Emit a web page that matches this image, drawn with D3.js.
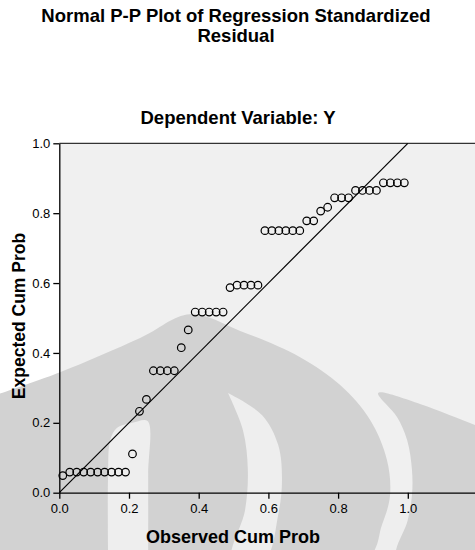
<!DOCTYPE html>
<html>
<head>
<meta charset="utf-8">
<title>Normal P-P Plot of Regression Standardized Residual</title>
<style>
body{
    margin:0;
    background:#fff;
}
svg text{
    font-family:"Liberation Sans", Arial, sans-serif;
    fill:#000;
}
.title{ font-weight:bold; }
.axis text{ font-size:13px; }
</style>
</head>
<body>
<svg id="chart" width="475" height="550"></svg>
<script src="https://d3js.org/d3.v7.min.js"></script>
<script>
// observed cumulative probability of each case (x)
var observed = [0.01,0.03,0.05,0.07,0.09,0.11,0.13,0.15,0.17,0.19,
                0.21,0.23,0.25,0.27,0.29,0.31,0.33,0.35,0.37,0.39,
                0.41,0.43,0.45,0.47,0.49,0.51,0.53,0.55,0.57,0.59,
                0.61,0.63,0.65,0.67,0.69,0.71,0.73,0.75,0.77,0.79,
                0.81,0.83,0.85,0.87,0.89,0.91,0.93,0.95,0.97,0.99];

// expected cumulative probability of each case (y)
var expected = [0.049,0.059,0.059,0.059,0.059,0.059,0.059,0.059,0.059,0.059,
                0.111,0.233,0.267,0.349,0.349,0.349,0.349,0.415,0.466,0.517,
                0.517,0.517,0.517,0.517,0.587,0.594,0.594,0.594,0.594,0.750,
                0.750,0.750,0.750,0.750,0.750,0.778,0.778,0.806,0.817,0.844,
                0.844,0.844,0.865,0.865,0.865,0.865,0.887,0.887,0.887,0.887];

var xTicks = [0.0,0.2,0.4,0.6,0.8,1.0];
var yTicks = [0.0,0.2,0.4,0.6,0.8,1.0];

// background watermark outlines, in data units
var wmDome = [[-0.19,0.277],[0.002,0.345],[0.232,0.443],[0.375,0.511],[0.519,0.463],
              [0.691,0.388],[0.806,0.308],[0.892,0.208],[0.940,0.094],[0.949,-0.007],
              [0.926,-0.092],[0.880,-0.19],[-0.19,-0.19]];
var wmLeftGap = [[0.140,-0.19],[0.140,0.05],[0.146,0.15],[0.165,0.185],[0.21,0.200],
                 [0.253,0.205],[0.255,0.05],[0.255,-0.19]];
var wmMidGap = [[0.484,0.285],[0.527,0.179],[0.541,0.065],[0.533,-0.050],[0.496,-0.19],
                [0.590,-0.19],[0.628,-0.064],[0.639,0.036],[0.628,0.137],[0.582,0.222],[0.484,0.285]];
var wmRight = [[1.25,0.175],[1.193,0.194],[1.035,0.254],[0.915,0.285],[0.969,0.217],
               [0.998,0.151],[1.012,0.065],[1.012,-0.007],[1.000,-0.078],[0.969,-0.19],[1.25,-0.19]];

var svg = d3.select("#chart");

var x = d3.scaleLinear().domain([0, 1.2]).range([59.3, 477.5]);
var y = d3.scaleLinear().domain([0, 1]).range([492.7, 143.3]);

// plot background
svg.append("rect")
    .attr("x", x(0)).attr("y", y(1))
    .attr("width", x(1.2) - x(0)).attr("height", y(0) - y(1))
    .attr("fill", "#f0f0f0");

svg.append("rect")
    .attr("x", 0).attr("y", y(0))
    .attr("width", 475).attr("height", 550 - y(0))
    .attr("fill", "#eeeeee");

// watermark
var wm = d3.line()
    .x(function(d){ return x(d[0]); })
    .y(function(d){ return y(d[1]); })
    .curve(d3.curveCatmullRom);

svg.append("path").attr("d", wm(wmDome) + "Z").attr("fill", "#d2d2d2");
svg.append("path").attr("d", wm(wmRight) + "Z").attr("fill", "#d2d2d2");
svg.append("path").attr("d", wm(wmLeftGap) + "Z").attr("fill", "#eeeeee");
svg.append("path").attr("d", wm(wmMidGap) + "Z").attr("fill", "#eeeeee");

// top frame line
svg.append("line")
    .attr("x1", x(0)).attr("x2", x(1.2))
    .attr("y1", y(1)).attr("y2", y(1))
    .attr("stroke", "#333").attr("stroke-width", 1.3);

// axes
var xAxis = svg.append("g").attr("class", "axis")
    .attr("transform", "translate(0," + y(0) + ")")
    .call(d3.axisBottom(x).tickValues(xTicks).tickFormat(d3.format(".1f"))
        .tickSize(6).tickSizeOuter(0).tickPadding(5));

var yAxis = svg.append("g").attr("class", "axis")
    .attr("transform", "translate(" + x(0) + ",0)")
    .call(d3.axisLeft(y).tickValues(yTicks).tickFormat(d3.format(".1f"))
        .tickSize(6).tickSizeOuter(0).tickPadding(3));

svg.selectAll(".axis path, .axis line").attr("stroke", "#000").attr("stroke-width", 1.3);
svg.selectAll(".axis text").attr("font-family", null).attr("font-size", null);

// reference diagonal
svg.append("line")
    .attr("x1", x(0)).attr("y1", y(0))
    .attr("x2", x(1)).attr("y2", y(1))
    .attr("stroke", "#000").attr("stroke-width", 1.2);

// points
svg.append("g").selectAll("circle")
    .data(observed)
    .enter().append("circle")
    .attr("cx", function(d){ return x(d); })
    .attr("cy", function(d, i){ return y(expected[i]); })
    .attr("r", 3.8)
    .attr("fill", "none")
    .attr("stroke", "#000")
    .attr("stroke-width", 1.2);

// titles
svg.append("text").attr("class", "title")
    .attr("x", 236).attr("y", 22).attr("text-anchor", "middle")
    .style("font-size", "18.5px")
    .text("Normal P-P Plot of Regression Standardized");
svg.append("text").attr("class", "title")
    .attr("x", 236).attr("y", 42).attr("text-anchor", "middle")
    .style("font-size", "18.5px")
    .text("Residual");
svg.append("text").attr("class", "title")
    .attr("x", 238).attr("y", 124).attr("text-anchor", "middle")
    .style("font-size", "18.5px")
    .text("Dependent Variable: Y");

svg.append("text").attr("class", "title")
    .attr("x", 233).attr("y", 543).attr("text-anchor", "middle")
    .style("font-size", "18px")
    .text("Observed Cum Prob");
svg.append("text").attr("class", "title")
    .attr("transform", "translate(25,316) rotate(-90)")
    .attr("text-anchor", "middle")
    .style("font-size", "17.5px")
    .text("Expected Cum Prob");
</script>
</body>
</html>
